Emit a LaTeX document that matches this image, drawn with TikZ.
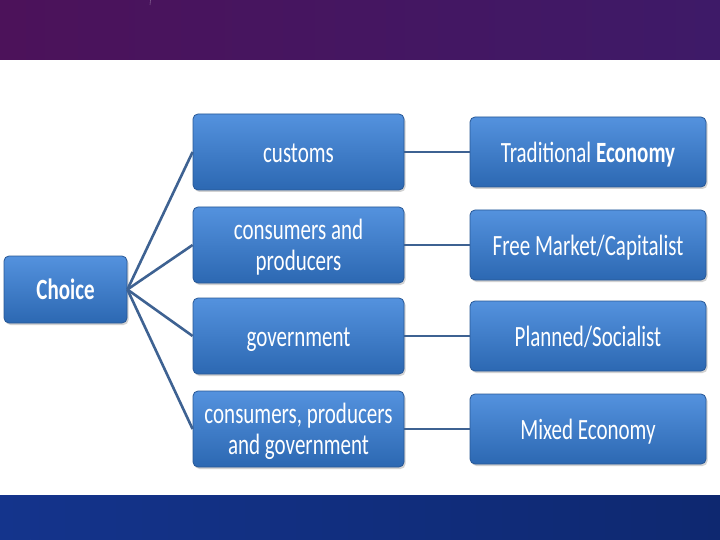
\documentclass[tikz,border=0pt]{standalone}
\usepackage{fontspec}
\setmainfont{Carlito}
\usetikzlibrary{shadows}
\definecolor{boxtop}{RGB}{84,146,222}
\definecolor{boxbot}{RGB}{44,104,178}
\definecolor{boxline}{RGB}{40,88,150}
\definecolor{linkblue}{RGB}{62,98,146}
\definecolor{bandpurple}{RGB}{76,18,90}
\definecolor{bandviolet}{RGB}{62,26,104}
\definecolor{bandblue}{RGB}{20,52,140}
\definecolor{banddark}{RGB}{14,40,112}
\newcommand{\tallText}[1]{\raisebox{-4pt}[\height][\depth]{\scalebox{1}[1.4]{\begin{tabular}{@{}c@{}}#1\end{tabular}}}}
\tikzset{
    choicebox/.style={draw=boxline, line width=0.8pt, rounded corners=5pt,
            top color=boxtop, bottom color=boxbot, text=white, align=center,
            font=\fontsize{21}{22}\selectfont,
            drop shadow={shadow xshift=1.5pt, shadow yshift=-2pt, opacity=0.35}},
    link/.style={draw=linkblue, line width=2.6pt}
}

\begin{document}
\begin{tikzpicture}[x=1pt, y=-1pt]
        \useasboundingbox (0, 0) rectangle (720, 540);
        %background bands
        \fill[white] (0, 0) rectangle (720, 540);
        \shade[left color=bandpurple, right color=bandviolet] (0, 0) rectangle (720, 60);
        \shade[left color=bandblue, right color=banddark] (0, 495) rectangle (720, 540);
        \draw[white, opacity=0.3, line width=0.6pt] (150, 5) arc [start angle=180, end angle=300, radius=22];
        \draw[white, opacity=0.3, line width=0.6pt] (560, 60) arc [start angle=180, end angle=110, radius=90];
        \draw[white, opacity=0.3, line width=0.6pt] (610, 60) arc [start angle=180, end angle=120, radius=80];
        \draw[white, opacity=0.3, line width=0.6pt] (30, 540) arc [start angle=-30, end angle=20, radius=45];
        %left box
        \node[choicebox, minimum width=123, minimum height=67] (choice) at (65.5, 289.5) {\tallText{\textbf{Choice}}};
        %middle boxes
        \node[choicebox, minimum width=211, minimum height=76] (customs) at (298.5, 152) {\tallText{customs}};
        \node[choicebox, minimum width=211, minimum height=76] (consprod) at (298.5, 245) {\tallText{consumers and\\producers}};
        \node[choicebox, minimum width=211, minimum height=76] (govt) at (298.5, 336) {\tallText{government}};
        \node[choicebox, minimum width=211, minimum height=76] (all) at (298.5, 429) {\tallText{consumers, producers\\and government}};
        %right boxes
        \node[choicebox, minimum width=236, minimum height=70] (trad) at (588, 152) {\tallText{Traditional \textbf{Economy}}};
        \node[choicebox, minimum width=236, minimum height=70] (free) at (588, 245) {\tallText{Free Market/Capitalist}};
        \node[choicebox, minimum width=236, minimum height=70] (planned) at (588, 336) {\tallText{Planned/Socialist}};
        \node[choicebox, minimum width=236, minimum height=70] (mixed) at (588, 429) {\tallText{Mixed Economy}};
        %connectors
        \draw[link] (choice.east) -- (customs.west);
        \draw[link] (choice.east) -- (consprod.west);
        \draw[link] (choice.east) -- (govt.west);
        \draw[link] (choice.east) -- (all.west);
        \draw[link] (customs.east) -- (trad.west);
        \draw[link] (consprod.east) -- (free.west);
        \draw[link] (govt.east) -- (planned.west);
        \draw[link] (all.east) -- (mixed.west);
    \end{tikzpicture}
\end{document}
